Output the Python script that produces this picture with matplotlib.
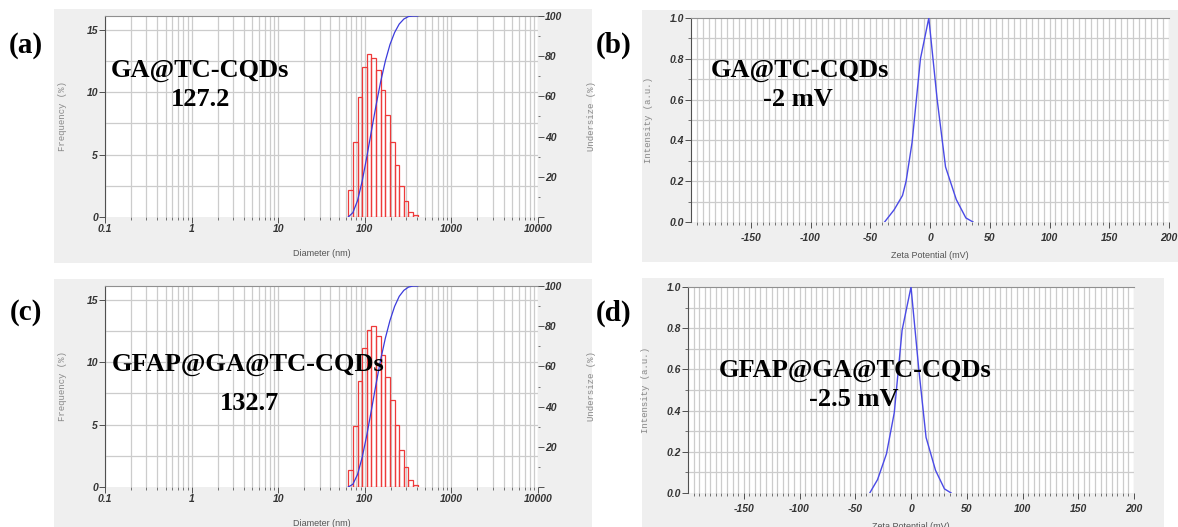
import numpy as np
import matplotlib
matplotlib.use("Agg")
import matplotlib.pyplot as plt
from matplotlib.patches import Rectangle
from matplotlib.ticker import FixedLocator, FixedFormatter, NullFormatter

plt.rcParams['axes.unicode_minus'] = False

# size distribution (DLS) - bin edges in nm, frequency in %, undersize in %
bin_edges = [64.5, 72.9, 82.5, 93.3, 105.5, 119.4, 135.0, 152.7, 172.7,
             195.3, 220.9, 249.8, 282.6, 319.6, 361.5, 408.8]
freq_a = [2.2, 6.0, 9.65, 12.05, 13.05, 12.7, 11.8, 10.15, 8.2, 6.0,
          4.2, 2.5, 1.25, 0.4, 0.2]
under_a = [0, 2.2, 8.2, 17.85, 29.9, 42.95, 55.65, 67.45, 77.6, 85.8,
           91.8, 96.0, 98.5, 99.75, 100, 100]
freq_c = [1.4, 4.85, 8.5, 11.1, 12.6, 12.9, 12.1, 10.6, 8.8, 7.0,
          5.0, 3.0, 1.6, 0.55, 0.2]
under_c = [0, 1.4, 6.25, 14.75, 25.85, 38.45, 51.35, 63.45, 74.05, 82.85,
           89.85, 94.85, 97.85, 99.45, 100, 100]

# zeta potential curves
zeta_b = [-38, -30, -23, -20, -15, -8, -1, 6, 13, 22, 30, 36]
inten_b = [0.0, 0.06, 0.13, 0.2, 0.39, 0.80, 1.0, 0.6, 0.27, 0.11, 0.02, 0.0]
zeta_d = [-37, -30, -22, -15, -8, 0, 7, 13.5, 22, 30, 36]
inten_d = [0.0, 0.065, 0.19, 0.39, 0.79, 1.0, 0.6, 0.27, 0.11, 0.02, 0.0]

size_ticks = [0.1, 1, 10, 100, 1000, 10000]
size_labels = ['0.1', '1', '10', '100', '1000', '10000']
zeta_ticks = [-150, -100, -50, 0, 50, 100, 150, 200]

W, H = 1178, 527
fig = plt.figure(figsize=(W / 100, H / 100), dpi=100)
fig.patch.set_facecolor('white')

def px_axes(l, r, t, b):
    return fig.add_axes([l / W, (H - b) / H, (r - l) / W, (b - t) / H])

def gray_box(l, r, t, b):
    fig.patches.append(Rectangle((l / W, (H - b) / H), (r - l) / W, (b - t) / H,
                                 transform=fig.transFigure, facecolor='#efefef',
                                 edgecolor='none', zorder=-5))

tick_font = dict(fontsize=7.5, fontweight='bold', fontstyle='italic',
                 family='Liberation Sans', color='#333333')
grid_col = '#cccccc'

def style_common(ax):
    ax.set_facecolor('white')
    for s in ['right', 'bottom']:
        ax.spines[s].set_visible(False)
    ax.spines['top'].set_color('#909090')
    ax.spines['left'].set_color('#505050')
    ax.spines['left'].set_linewidth(0.8)
    ax.tick_params(which='major', length=4, width=0.7, color='#505050', pad=1)
    ax.tick_params(which='minor', length=2, width=0.7, color='#707070')
    for lab in ax.get_xticklabels() + ax.get_yticklabels():
        lab.set(**tick_font)


def size_panel(l, r, t, b, freq, under):
    ax = px_axes(l, r, t, b)
    ax.set_xscale('log')
    ax.set_xlim(0.1, 10000)
    ax.set_ylim(0, 16.1)
    ax.set_axisbelow(True)
    widths = np.diff(bin_edges)
    ax.bar(bin_edges[:-1], freq, width=widths, align='edge', facecolor='none',
           edgecolor='#ee3a3a', linewidth=0.9, zorder=2)
    minors = [m * 10.0 ** e for e in range(-1, 4) for m in range(2, 10)]
    for xv in minors + size_ticks:
        ax.axvline(xv, color=grid_col, lw=0.9, zorder=0)
    for yv in np.arange(2.5, 16, 2.5):
        ax.axhline(yv, color=grid_col, lw=0.9, zorder=0)
    ax.xaxis.set_major_locator(FixedLocator(size_ticks))
    ax.xaxis.set_major_formatter(FixedFormatter(size_labels))
    ax.xaxis.set_minor_locator(FixedLocator(minors))
    ax.xaxis.set_minor_formatter(NullFormatter())
    ax.set_yticks([0, 5, 10, 15])
    ax.set_yticklabels(['0', '5', '10', '15'])
    style_common(ax)
    ax.set_ylabel('Frequency (%)', family='Liberation Mono', fontsize=6.5,
                  color='#888888', labelpad=14)
    ax.set_xlabel('Diameter (nm)', family='Liberation Sans', fontsize=6.5,
                  color='#555555', labelpad=11)

    ax2 = ax.twinx()
    ax2.set_ylim(0, 100)
    ax2.plot(bin_edges, under, color='#3b3bdc', lw=0.9)
    ax2.set_yticks([0, 20, 40, 60, 80, 100])
    ax2.set_yticklabels(['', '20', '40', '60', '80', '100'])
    ax2.set_yticks([10, 30, 50, 70, 90], minor=True)
    for s in ['left', 'top', 'bottom', 'right']:
        ax2.spines[s].set_visible(False)
    ax2.tick_params(which='major', length=4, width=0.7, color='#505050', pad=1)
    ax2.tick_params(which='minor', length=1.5, width=0.7, color='#707070')
    for lab in ax2.get_yticklabels():
        lab.set(**tick_font)
    ax2.set_ylabel('Undersize (%)', family='Liberation Mono', fontsize=6.5,
                   color='#888888', labelpad=18)
    return ax


def zeta_panel(l, r, t, b, zeta, inten):
    ax = px_axes(l, r, t, b)
    ax.set_xlim(-200, 200)
    ax.set_ylim(0, 1.0)
    ax.set_axisbelow(True)
    for xv in range(-195, 201, 5):
        ax.axvline(xv, color=grid_col, lw=0.9, zorder=0)
    for yv in np.arange(0.1, 1.0, 0.1):
        ax.axhline(yv, color=grid_col, lw=0.9, zorder=0)
    ax.plot(zeta, inten, color='#4a4ae6', lw=1.0, zorder=3)
    ax.set_xticks(zeta_ticks)
    ax.set_xticklabels([str(v) for v in zeta_ticks])
    ax.set_xticks(list(range(-195, 201, 5)), minor=True)
    ax.set_yticks(np.arange(0, 1.01, 0.2))
    ax.set_yticklabels(['%.1f' % v for v in np.arange(0, 1.01, 0.2)])
    ax.set_yticks(np.arange(0.1, 1.0, 0.2), minor=True)
    style_common(ax)
    ax.tick_params(axis='x', which='major', pad=4)
    ax.set_ylabel('Intensity (a.u.)', family='Liberation Mono', fontsize=6.5,
                  color='#888888', labelpad=12)
    ax.set_xlabel('Zeta Potential (mV)', family='Liberation Sans', fontsize=6.5,
                  color='#555555', labelpad=6)
    return ax


gray_box(54, 592, 9, 263)
gray_box(54, 592, 279, 527)
gray_box(642, 1178, 10, 262)
gray_box(642, 1164, 278, 527)

size_panel(105, 538, 16, 217, freq_a, under_a)
size_panel(105, 538, 286, 487, freq_c, under_c)
zeta_panel(691, 1169, 18, 222, zeta_b, inten_b)
zeta_panel(688, 1134, 287, 493, zeta_d, inten_d)

big = dict(family='Liberation Serif', fontweight='bold', fontsize=19,
           ha='center', va='center', zorder=10)
lab = dict(family='Liberation Serif', fontweight='bold', fontsize=21,
           ha='center', va='center', zorder=10)

def ftext(x, y, s, **kw):
    fig.text(x / W, 1 - y / H, s, **kw)

ftext(26, 45, '(a)', **lab)
ftext(614, 45, '(b)', **lab)
ftext(26, 313, '(c)', **lab)
ftext(614, 313, '(d)', **lab)

ftext(200, 71, 'GA@TC-CQDs', **big)
ftext(201, 99, '127.2', **big)
ftext(800, 71, 'GA@TC-CQDs', **big)
ftext(798, 99, '-2 mV', **big)
ftext(248, 364, 'GFAP@GA@TC-CQDs', **big)
ftext(249, 403, '132.7', **big)
ftext(855, 371, 'GFAP@GA@TC-CQDs', **big)
ftext(854, 399, '-2.5 mV', **big)

fig.savefig('out.png', dpi=100, facecolor='white')
